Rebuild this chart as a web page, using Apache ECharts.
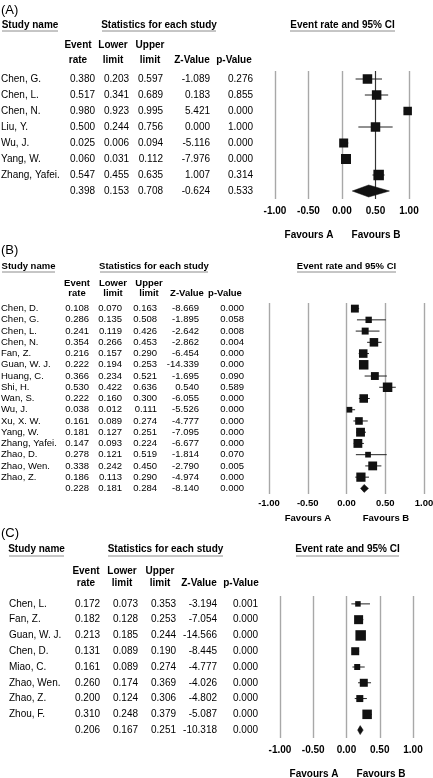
<!DOCTYPE html>
<html><head><meta charset="utf-8">
<script src="https://cdn.jsdelivr.net/npm/echarts@6.0.0/dist/echarts.min.js"></script>
<style>html,body{margin:0;padding:0;background:#fff}#c{width:433px;height:778px}</style>
</head><body><div id="c"></div>
<script>
// ---------- Panel A ----------
const namesA = ['Chen, G.','Chen, L.','Chen, N.','Liu, Y.','Wu, J.','Yang, W.','Zhang, Yafei.'];
const rateA  = [0.380,0.517,0.980,0.500,0.025,0.060,0.547];
const lowerA = [0.203,0.341,0.923,0.244,0.006,0.031,0.455];
const upperA = [0.597,0.689,0.995,0.756,0.094,0.112,0.635];
const zA     = [-1.089,0.183,5.421,0.000,-5.116,-7.976,1.007];
const pA     = [0.276,0.855,0.000,1.000,0.000,0.000,0.314];
const summaryA = [0.398,0.153,0.708,-0.624,0.533]; // rate, lower, upper, z, p
const weightA  = [0.95,0.95,0.85,0.95,0.90,1.00,1.05];

// ---------- Panel B ----------
const namesB = ['Chen, D.','Chen, G.','Chen, L.','Chen, N.','Fan, Z.','Guan, W. J.','Huang, C.','Shi, H.','Wan, S.','Wu, J.','Xu, X. W.','Yang, W.','Zhang, Yafei.','Zhao, D.','Zhao, Wen.','Zhao, Z.'];
const rateB  = [0.108,0.286,0.241,0.354,0.216,0.222,0.366,0.530,0.222,0.038,0.161,0.181,0.147,0.278,0.338,0.186];
const lowerB = [0.070,0.135,0.119,0.266,0.157,0.194,0.234,0.422,0.160,0.012,0.089,0.127,0.093,0.121,0.242,0.113];
const upperB = [0.163,0.508,0.426,0.453,0.290,0.253,0.521,0.636,0.300,0.111,0.274,0.251,0.224,0.519,0.450,0.290];
const zB     = [-8.669,-1.895,-2.642,-2.862,-6.454,-14.339,-1.695,0.540,-6.055,-5.526,-4.777,-7.095,-6.677,-1.814,-2.790,-4.974];
const pB     = [0.000,0.058,0.008,0.004,0.000,0.000,0.090,0.589,0.000,0.000,0.000,0.000,0.000,0.070,0.005,0.000];
const summaryB = [0.228,0.181,0.284,-8.140,0.000];
const weightB  = [0.83,0.67,0.73,0.90,0.90,1.00,0.83,1.00,0.90,0.60,0.80,0.93,0.93,0.60,0.93,0.97];

// ---------- Panel C ----------
const namesC = ['Chen, L.','Fan, Z.','Guan, W. J.','Chen, D.','Miao, C.','Zhao, Wen.','Zhao, Z.','Zhou, F.'];
const rateC  = [0.172,0.182,0.213,0.131,0.161,0.260,0.200,0.310];
const lowerC = [0.073,0.128,0.185,0.089,0.089,0.174,0.124,0.248];
const upperC = [0.353,0.253,0.244,0.190,0.274,0.369,0.306,0.379];
const zC     = [-3.194,-7.054,-14.566,-8.445,-4.777,-4.026,-4.802,-5.087];
const pC     = [0.001,0.000,0.000,0.000,0.000,0.000,0.000,0.000];
const summaryC = [0.206,0.167,0.251,-10.318,0.000];
const weightC  = [0.55,0.90,1.05,0.80,0.60,0.80,0.70,0.95];

// ---------- shared text ----------
const panelTags = ['(A)','(B)','(C)'];
const headStudy = 'Study name';
const headStats = 'Statistics for each study';
const headCI = 'Event rate and 95% CI';
const colHeads = [['Event','rate'],['Lower','limit'],['Upper','limit'],['','Z-Value'],['','p-Value']];
const favours = ['Favours A','Favours B'];
const xTicks = {min:-1, max:1, interval:0.5};

const FONT = '"Liberation Sans", Arial, Helvetica, sans-serif';

const panels = [
  {names:namesA, rate:rateA, lower:lowerA, upper:upperA, z:zA, p:pA, sum:summaryA, w:weightA,
   grid:{left:275, top:71, width:134, height:128}, fs:10, colW:[60,34,34,34,47,43], lblMargin:22, tickMargin:7,
   box:10, diamondH:12, nullLine:0.5, tickFs:10,
   lay:{tagY:10, hdrY:25, ulY:31, hdrFs:10, study:[2,58], stats:[102,216], ci:[290,395], colX:[78,113,150,192,234], colY:[45,60], colFs:10, favY:235, fav:[309,376]}},
  {names:namesB, rate:rateB, lower:lowerB, upper:upperB, z:zB, p:pB, sum:summaryB, w:weightB,
   grid:{left:269, top:303, width:155, height:191}, fs:9.5, colW:[55,33,33,35,42,45], lblMargin:25, tickMargin:4,
   box:9.5, diamondH:8, nullLine:null, tickFs:9.5,
   lay:{tagY:250, hdrY:266, ulY:272, hdrFs:9.5, study:[2,55], stats:[100,208], ci:[297,396], colX:[77,113,149,187,225], colY:[283,293], colFs:9.5, favY:518, fav:[308,386]}},
  {names:namesC, rate:rateC, lower:lowerC, upper:upperC, z:zC, p:pC, sum:summaryC, w:weightC,
   grid:{left:280, top:596, width:133, height:142}, fs:10, colW:[57,34,38,38,41,41], lblMargin:22, tickMargin:7,
   box:10, diamondH:9, nullLine:null, tickFs:10,
   lay:{tagY:533, hdrY:549, ulY:556, hdrFs:10, study:[9,64], stats:[108,223], ci:[296,399], colX:[86,122,160,199,241], colY:[571,583], colFs:10, favY:774, fav:[314,381]}}
];

const f3 = v => v.toFixed(3);

const grids = [], xAxes = [], yAxes = [], series = [], graphics = [];

function txt(x, y, s, o) {
  o = o || {};
  graphics.push({type:'text', x:x, y:y, silent:true, z:10,
    style:{text:s, fill:'#000', font:(o.weight||'bold')+' '+(o.fs||10)+'px '+FONT,
           textAlign:o.align||'center', textVerticalAlign:'middle'}});
}
function uline(x1, x2, y) {
  graphics.push({type:'line', silent:true, z:10, shape:{x1:x1, y1:y, x2:x2, y2:y}, style:{stroke:'#8c8c8c', lineWidth:1}});
}

panels.forEach((P, i) => {
  const n = P.names.length;
  grids.push(Object.assign({outerBoundsMode:'none', containLabel:false}, P.grid));
  xAxes.push({type:'value', gridIndex:i, min:xTicks.min, max:xTicks.max, interval:xTicks.interval,
    axisLine:{show:false}, axisTick:{show:false},
    splitLine:{show:true, lineStyle:{color:'#a8a8a8', width:1.4}},
    axisLabel:{formatter:v => v.toFixed(2), color:'#000', fontWeight:'bold', fontSize:P.tickFs, fontFamily:FONT, margin:P.tickMargin}});
  const rowLabels = P.names.concat(['']);
  const rs = {fontSize:P.fs, fontFamily:FONT, color:'#000'};
  yAxes.push({type:'category', gridIndex:i, inverse:true, data:rowLabels,
    axisLine:{show:false}, axisTick:{show:false}, splitLine:{show:false},
    axisLabel:{interval:0, margin:P.lblMargin, align:'right',
      formatter:(v, idx) => {
        let vals;
        if (idx < n) vals = [P.rate[idx], P.lower[idx], P.upper[idx], P.z[idx], P.p[idx]];
        else vals = P.sum;
        const nm = idx < n ? P.names[idx] : '\u00a0';
        return '{n|' + nm + '}{a|' + f3(vals[0]) + '}{b|' + f3(vals[1]) + '}{c|' + f3(vals[2]) + '}{d|' + f3(vals[3]) + '}{e|' + f3(vals[4]) + '}';
      },
      rich:{
        n:Object.assign({width:P.colW[0], align:'left'}, rs),
        a:Object.assign({width:P.colW[1], align:'right'}, rs),
        b:Object.assign({width:P.colW[2], align:'right'}, rs),
        c:Object.assign({width:P.colW[3], align:'right'}, rs),
        d:Object.assign({width:P.colW[4], align:'right'}, rs),
        e:Object.assign({width:P.colW[5], align:'right'}, rs)
      }}});
  const data = [];
  for (let k = 0; k < n; k++) data.push([k, P.rate[k], P.lower[k], P.upper[k], P.w[k], 0]);
  data.push([n, P.sum[0], P.sum[1], P.sum[2], 0, 1]);
  const s = {
    type:'custom', xAxisIndex:i, yAxisIndex:i, data:data, silent:true, z:5,
    encode:{x:[1,2,3], y:0},
    renderItem:(params, api) => {
      const row = api.value(0), est = api.value(1), lo = api.value(2), hi = api.value(3), w = api.value(4), isSum = api.value(5);
      const pc = api.coord([est, row]), pl = api.coord([lo, row]), ph = api.coord([hi, row]);
      if (isSum) {
        const h = P.diamondH / 2;
        return {type:'polygon', shape:{points:[[pl[0], pc[1]], [pc[0], pc[1]-h], [ph[0], pc[1]], [pc[0], pc[1]+h]]},
                style:{fill:'#111', stroke:'#111', lineWidth:0.5}};
      }
      const sz = w * P.box;
      return {type:'group', children:[
        {type:'line', shape:{x1:pl[0], y1:pl[1], x2:ph[0], y2:ph[1]}, style:{stroke:'#222', lineWidth:1}},
        {type:'rect', shape:{x:pc[0]-sz/2, y:pc[1]-sz/2, width:sz, height:sz}, style:{fill:'#111'}}
      ]};
    }
  };
  if (P.nullLine !== null) {
    s.markLine = {silent:true, symbol:'none', label:{show:false}, animation:false,
      lineStyle:{color:'#333', width:1, type:'solid'}, data:[{xAxis:P.nullLine}]};
  }
  series.push(s);

  // headers
  const L = P.lay;
  txt(1, L.tagY, panelTags[i], {weight:'normal', fs:13, align:'left'});
  txt((L.study[0]+L.study[1])/2, L.hdrY, headStudy, {fs:L.hdrFs});
  uline(L.study[0], L.study[1], L.ulY);
  txt((L.stats[0]+L.stats[1])/2, L.hdrY, headStats, {fs:L.hdrFs});
  uline(L.stats[0], L.stats[1], L.ulY);
  txt((L.ci[0]+L.ci[1])/2, L.hdrY, headCI, {fs:L.hdrFs});
  uline(L.ci[0], L.ci[1], L.ulY);
  colHeads.forEach((h, j) => {
    if (h[0]) txt(L.colX[j], L.colY[0], h[0], {fs:L.colFs});
    txt(L.colX[j], L.colY[1], h[1], {fs:L.colFs});
  });
  txt(L.fav[0], L.favY, favours[0], {fs:L.hdrFs});
  txt(L.fav[1], L.favY, favours[1], {fs:L.hdrFs});
});

const chart = echarts.init(document.getElementById('c'), null, {renderer:'canvas'});
chart.setOption({
  animation:false,
  backgroundColor:'#fff',
  textStyle:{fontFamily:FONT},
  grid:grids, xAxis:xAxes, yAxis:yAxes, series:series,
  graphic:{elements:graphics}
});
</script>
</body></html>
